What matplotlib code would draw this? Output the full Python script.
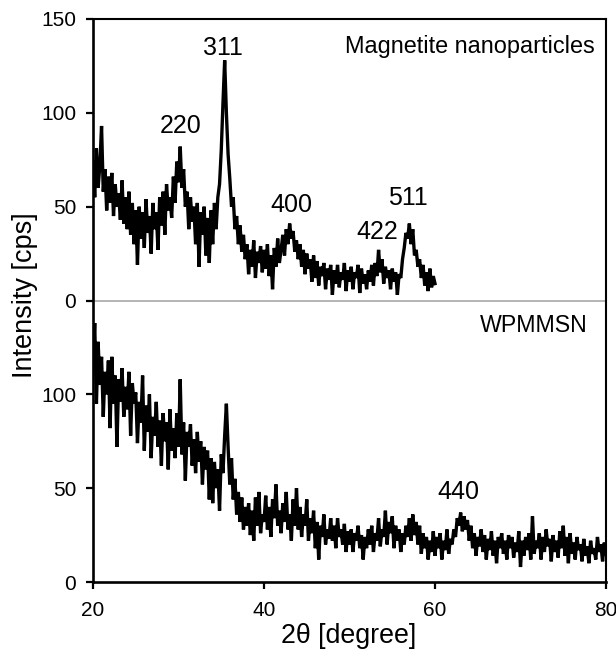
import numpy as np
import matplotlib
matplotlib.use("Agg")
import matplotlib.pyplot as plt

# ---- data (2theta step 0.2 deg) ----
top_start, top_step = 20.0, 0.2
magnetite = [
    74, 55, 81, 60, 72, 93, 58, 70, 48, 66,
    52, 68, 45, 62, 50, 57, 43, 64, 41, 55,
    38, 58, 35, 52, 30, 48, 19, 50, 33, 47,
    28, 54, 36, 45, 25, 52, 38, 47, 27, 55,
    40, 58, 35, 62, 48, 55, 44, 66, 52, 74,
    63, 82, 60, 70, 50, 58, 38, 55, 42, 50,
    30, 52, 18, 47, 35, 50, 24, 44, 20, 48,
    30, 52, 38, 55, 62, 80, 105, 128, 100, 78,
    65, 50, 55, 38, 45, 30, 40, 26, 35, 22,
    30, 14, 27, 18, 32, 12, 26, 20, 29, 15,
    27, 17, 30, 13, 24, 6, 28, 18, 33, 20,
    27, 35, 24, 38, 30, 41, 33, 37, 26, 32,
    22, 30, 18, 27, 14, 25, 17, 22, 10, 24,
    12, 21, 8, 18, 13, 20, 6, 17, 11, 19,
    3, 16, 9, 19, 7, 15, 11, 20, 5, 16,
    10, 18, 6, 15, 12, 19, 4, 17, 9, 14,
    6, 16, 10, 19, 8, 20, 13, 27, 15, 22,
    9, 18, 12, 16, 6, 17, 10, 15, 3, 14,
    12, 22, 28, 36, 33, 41, 30, 38, 24, 27,
    18, 22, 12, 19, 8, 15, 5, 17, 7, 13,
    9,
]
bot_start, bot_step = 20.0, 0.2
wpmmsn = [
    115, 138, 95, 128, 105, 120, 88, 112, 100, 118,
    82, 120, 95, 110, 72, 108, 96, 114, 88, 104,
    92, 112, 78, 106, 95, 101, 74, 96, 85, 110,
    70, 94, 80, 100, 66, 88, 78, 96, 72, 86,
    62, 90, 75, 85, 60, 92, 70, 82, 66, 90,
    72, 108, 68, 85, 54, 80, 72, 84, 62, 76,
    58, 80, 64, 75, 52, 72, 60, 70, 44, 66,
    42, 64, 50, 60, 38, 68, 58, 78, 95, 72,
    52, 66, 44, 55, 36, 48, 32, 45, 28, 40,
    30, 42, 25, 38, 22, 45, 30, 48, 26, 36,
    32, 46, 28, 40, 24, 44, 34, 52, 30, 38,
    26, 42, 32, 48, 28, 36, 22, 44, 30, 50,
    28, 40, 24, 36, 30, 44, 22, 34, 26, 38,
    18, 32, 12, 30, 24, 36, 20, 28, 23, 34,
    22, 30, 18, 34, 24, 28, 20, 31, 16, 27,
    20, 28, 16, 26, 22, 30, 18, 25, 12, 24,
    18, 28, 20, 30, 16, 26, 22, 34, 19, 28,
    24, 38, 20, 32, 26, 35, 18, 30, 22, 28,
    16, 26, 20, 30, 24, 34, 22, 36, 25, 32,
    20, 30, 15, 26, 18, 24, 12, 22, 16, 27,
    14, 24, 18, 26, 12, 22, 17, 28, 15, 23,
    20, 28, 24, 34, 30, 37, 27, 35, 28, 33,
    22, 30, 18, 26, 14, 24, 19, 28, 16, 25,
    12, 23, 17, 27, 14, 22, 10, 24, 18, 26,
    15, 22, 12, 25, 18, 24, 13, 21, 16, 27,
    8, 22, 14, 24, 17, 26, 12, 35, 15, 22,
    18, 26, 12, 24, 16, 28, 19, 23, 11, 25,
    16, 22, 13, 27, 18, 30, 14, 24, 10, 26,
    15, 21, 12, 24, 17, 20, 11, 23, 14, 19,
    10, 22, 15, 18, 12, 24, 16, 20, 11, 21,
    15,
]
panel_offset = 150  # top panel is stacked above the bottom one
ytick_pos = [0, 50, 100, 150, 200, 250, 300]
ytick_lab = ["0", "50", "100", "0", "50", "100", "150"]
xticks = [20, 40, 60, 80]

peak_labels = ["311", "220", "400", "422", "511"]
peak_x = [35.2, 30.2, 43.2, 53.2, 56.8]
peak_y = [131, 89, 47, 33, 51]  # in top-panel units

x_top = top_start + top_step * np.arange(len(magnetite))
x_bot = bot_start + bot_step * np.arange(len(wpmmsn))

tick_font = ["Liberation Sans Narrow", "Liberation Sans", "DejaVu Sans"]
text_font = ["Liberation Sans", "DejaVu Sans"]

fig = plt.figure(figsize=(6.16, 6.49), dpi=100)
ax = fig.add_axes([93/616, 1 - 582/649, (606-93)/616, (582-19)/649])

ax.plot(x_bot, wpmmsn, color="black", lw=2.4, solid_joinstyle="miter")
ax.plot(x_top, np.array(magnetite) + panel_offset, color="black", lw=2.4,
        solid_joinstyle="miter")
ax.axhline(panel_offset, color="#a8a8a8", lw=1.2, zorder=0)

ax.set_xlim(20, 80)
ax.set_ylim(0, 300)
ax.set_xticks(xticks)
ax.set_yticks(ytick_pos)
ax.set_yticklabels(ytick_lab)
for lab in ax.get_xticklabels() + ax.get_yticklabels():
    lab.set_family(tick_font)
    lab.set_fontsize(15)
ax.tick_params(axis="both", direction="out", length=5, width=1.6, color="black")
ax.tick_params(axis="y", pad=7)
ax.tick_params(axis="x", pad=9)

for s in ["left", "bottom"]:
    ax.spines[s].set_linewidth(1.9)
for s in ["top", "right"]:
    ax.spines[s].set_linewidth(1.5)

fig.text(349/616, 1 - 643/649, "2θ [degree]", ha="center", va="baseline",
         family=text_font, fontsize=19.3)
fig.text(25/616, 1 - 295/649, "Intensity [cps]", ha="center", va="center",
         rotation=90, family=text_font, fontsize=19.5)

for lab, px, py in zip(peak_labels, peak_x, peak_y):
    ax.text(px, py + panel_offset, lab, ha="center", va="baseline",
            family=text_font, fontsize=18)
ax.text(62.7, 44, "440", ha="center", va="baseline", family=text_font, fontsize=18)
ax.text(78.7, 132 + panel_offset, "Magnetite nanoparticles", ha="right", va="baseline",
        family=text_font, fontsize=16.9)
ax.text(77.9, 133, "WPMMSN", ha="right", va="baseline", family=text_font, fontsize=16.7)

fig.savefig("out.png", dpi=100)
